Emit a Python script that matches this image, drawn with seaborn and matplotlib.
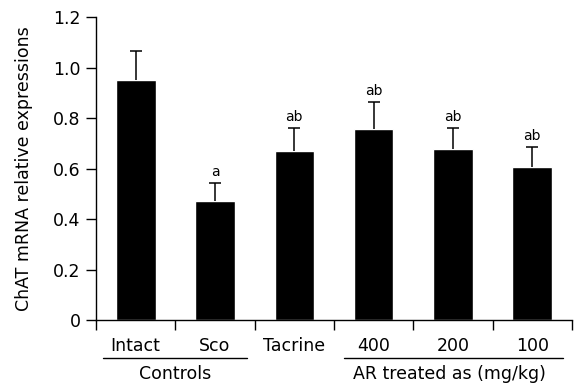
import numpy as np
import pandas as pd
import matplotlib
matplotlib.use("Agg")
import matplotlib.pyplot as plt
import matplotlib.transforms as mtransforms
import seaborn as sns

# values
groups = ["Intact", "Sco", "Tacrine", "400", "200", "100"]
means = [0.951, 0.470, 0.671, 0.757, 0.677, 0.608]
sems = [0.116, 0.073, 0.089, 0.107, 0.084, 0.077]
marks = ["", "a", "ab", "ab", "ab", "ab"]
yticks = [0, 0.2, 0.4, 0.6, 0.8, 1.0, 1.2]
ytick_labels = ["0", "0.2", "0.4", "0.6", "0.8", "1.0", "1.2"]

sns.set_style("ticks")
plt.rcParams["font.family"] = ["DejaVu Sans"]
plt.rcParams["text.color"] = "black"
plt.rcParams["axes.labelcolor"] = "black"
plt.rcParams["xtick.color"] = "black"
plt.rcParams["ytick.color"] = "black"
plt.rcParams["axes.edgecolor"] = "black"

df = pd.DataFrame({"group": groups, "mean": means, "sem": sems})

fig = plt.figure(figsize=(5.77, 3.89), dpi=100)
ax = fig.add_axes([0.1664, 0.1774, 0.8249, 0.7781])

sns.barplot(data=df, x="group", y="mean", color="black", width=0.5,
            saturation=1, ax=ax)
x = np.arange(len(groups))
_, caps, _ = ax.errorbar(x, means, yerr=[np.zeros(len(means)), sems],
                         fmt="none", ecolor="black", elinewidth=1.1,
                         capsize=4, capthick=1.1)
caps[0].set_visible(False)  # upper-only error bars

# significance letters
for xi, m, s, t in zip(x, means, sems, marks):
    if t:
        ax.annotate(t, (xi, m + s), xytext=(0, 3), textcoords="offset points",
                    ha="center", va="bottom", fontsize=10)

ax.set_xlim(-0.5, 5.5)
ax.set_ylim(0, 1.2)
ax.set_yticks(yticks)
ax.set_yticklabels(ytick_labels, fontsize=12.5)
ax.set_ylabel("ChAT mRNA relative expressions", fontsize=12.5)
ax.yaxis.set_label_coords(-0.132, 0.5)
ax.set_xlabel("")

# ticks at category boundaries, labels at centers
ax.set_xticks(np.arange(-0.5, 6, 1.0))
ax.set_xticklabels([])
ax.set_xticks(x, minor=True)
ax.set_xticklabels(groups, minor=True, fontsize=12.5)
ax.tick_params(axis="x", which="major", direction="out", length=7, width=1)
ax.tick_params(axis="x", which="minor", length=0, pad=12)
ax.tick_params(axis="y", direction="out", length=7, width=1, pad=4)

sns.despine(ax=ax)
for sp in ["left", "bottom"]:
    ax.spines[sp].set_linewidth(1)

# group brackets under the labels
trans = mtransforms.blended_transform_factory(ax.transData, ax.transAxes)
ax.plot([-0.41, 1.40], [-0.127, -0.127], color="black", lw=1,
        transform=trans, clip_on=False)
ax.plot([2.63, 5.39], [-0.127, -0.127], color="black", lw=1,
        transform=trans, clip_on=False)
ax.text(0.5, -0.180, "Controls", transform=trans, ha="center", va="center",
        fontsize=12.5)
ax.text(3.96, -0.180, "AR treated as (mg/kg)", transform=trans, ha="center",
        va="center", fontsize=12.5)

fig.savefig("out.png", dpi=100)
